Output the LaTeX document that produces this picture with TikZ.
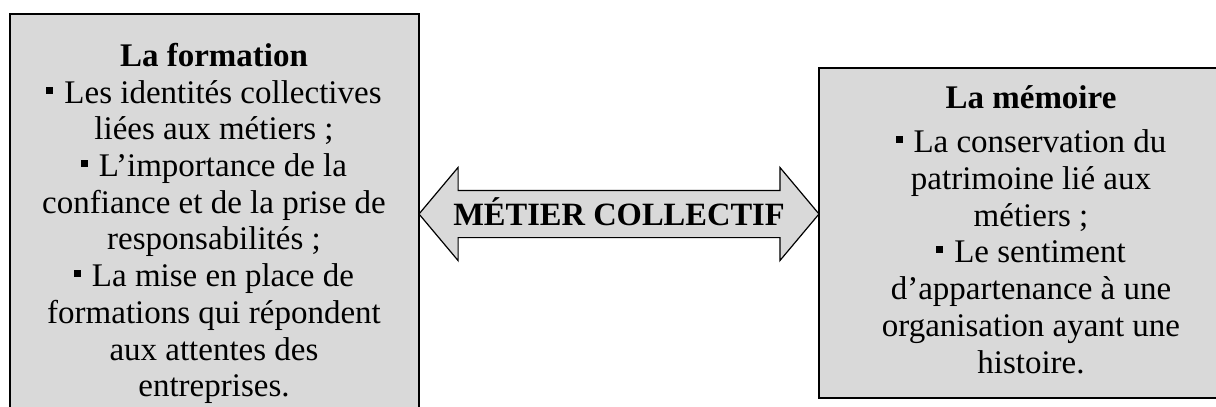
\documentclass[tikz,border=0pt]{standalone}
\usepackage{fontspec}
\setmainfont{Liberation Serif}
\usepackage{tikz}
\usetikzlibrary{calc, positioning, shapes.arrows}
\usepackage{xcolor}
\definecolor{gris}{HTML}{D9D9D9}
\newcommand{\puce}{\rule[9.5pt]{7pt}{7pt}\hspace{11pt}}

\begin{document}
\begin{tikzpicture}[x=1pt, y=-1pt,
    boite/.style={draw, fill=gris, line width=1.5pt, rectangle, inner sep=0pt},
    texte/.style={align=center, inner sep=0pt, font=\fontsize{33}{36.7}\selectfont},
    fleche/.style={double arrow, draw, fill=gris, line width=1.2pt,
      double arrow head extend=23pt, double arrow tip angle=100,
      minimum height=400pt, text height=23pt, text depth=0pt,
      inner ysep=11.5pt, inner xsep=0pt, font=\fontsize{32.5}{36}\bfseries}]
  \useasboundingbox (0,0) rectangle (1216,407);
  % the two boxes
  \node[boite, minimum width=409pt, minimum height=407pt, anchor=north west]
    (formation) at (9,13) {};
  \node[boite, minimum width=426pt, minimum height=330pt, anchor=north west]
    (memoire) at (818,67) {};
  % their texts
  \node[texte, anchor=north] (formationtxt) at (214,43) {%
    {\bfseries La formation}\\
    \puce Les identités collectives\\
    liées aux métiers ;\\
    \puce L’importance de la\\
    confiance et de la prise de\\
    responsabilités ;\\
    \puce La mise en place de\\
    formations qui répondent\\
    aux attentes des\\
    entreprises.};
  \node[texte, anchor=north] (memoiretxt) at (1031,85) {%
    {\bfseries La mémoire}\\[8pt]
    \puce La conservation du\\
    patrimoine lié aux\\
    métiers ;\\
    \puce Le sentiment\\
    d’appartenance à une\\
    organisation ayant une\\
    histoire.};
  % the double arrow between them
  \node[fleche] (metier) at (619,214) {MÉTIER COLLECTIF};
\end{tikzpicture}
\end{document}
